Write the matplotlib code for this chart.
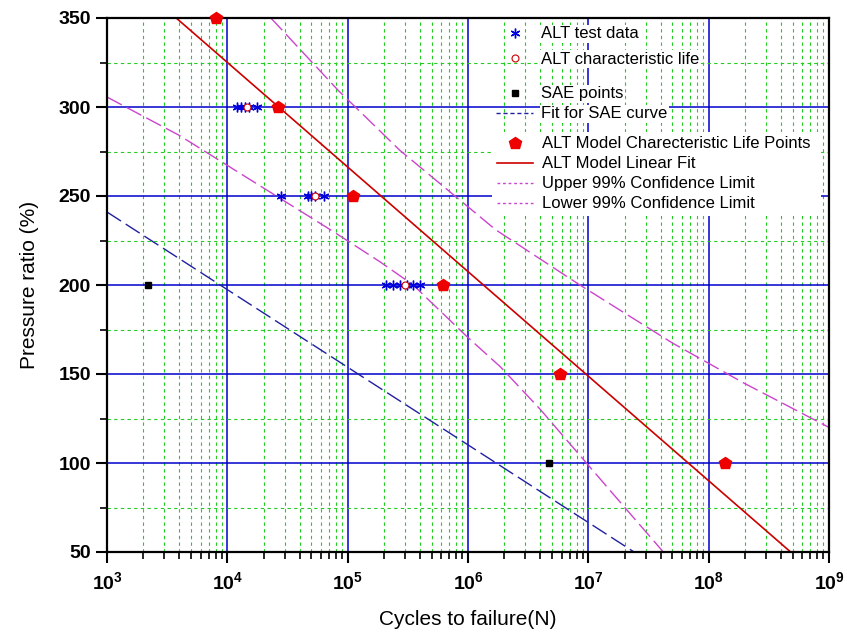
import numpy as np
import matplotlib
matplotlib.use('Agg')
import matplotlib.pyplot as plt
from matplotlib.ticker import FixedLocator, FuncFormatter, NullFormatter
from matplotlib.lines import Line2D

plt.rcParams['font.family'] = ['Liberation Sans', 'DejaVu Sans']
plt.rcParams['mathtext.fontset'] = 'custom'
plt.rcParams['mathtext.rm'] = 'Liberation Sans'
plt.rcParams['mathtext.bf'] = 'Liberation Sans:bold'

# ALT test data (cycles, pressure ratio)
test_300 = [1.2e4, 1.3e4, 1.4e4, 1.5e4, 1.75e4]
test_250 = [2.8e4, 4.7e4, 5.0e4, 5.4e4, 6.4e4]
test_200 = [2.1e5, 2.4e5, 2.7e5, 3.1e5, 3.5e5, 4.0e5]
test_cycles = test_300 + test_250 + test_200
test_pressure = [300] * len(test_300) + [250] * len(test_250) + [200] * len(test_200)

# ALT characteristic life
char_cycles = [1.45e4, 5.4e4, 3.0e5]
char_pressure = [300, 250, 200]

# SAE points and fit
sae_cycles = [2.2e3, 4.7e6]
sae_pressure = [200, 100]
sae_fit_cycles = [1e3, 2.4e7]
sae_fit_pressure = [241, 50]

# ALT model characteristic life points
model_cycles = [8.1e3, 2.65e4, 1.1e5, 6.2e5, 5.8e6, 1.38e8]
model_pressure = [350, 300, 250, 200, 150, 100]

# ALT model linear fit
fit_cycles = [3.76e3, 4.8e8]
fit_pressure = [350, 50]

# 99% confidence limits
upper_cycles = [2.3e4, 8.3e4, 2.7e5, 1.7e6, 8.5e6, 5.0e7, 1.95e8, 1e9]
upper_pressure = [350, 309.5, 275.8, 231, 200, 167.4, 145, 120]
lower_cycles = [1e3, 4.0e3, 7.6e4, 1.86e5, 3.5e5, 9.8e5, 1.86e6, 4.0e6, 1.95e7, 4.2e7]
lower_pressure = [305.6, 284, 230, 213, 200, 171, 154, 130, 76, 50]

fig = plt.figure(figsize=(8.47, 6.42), dpi=100)
ax = fig.add_axes([107 / 847, 1 - 552 / 642, (829 - 107) / 847, (552 - 18) / 642])

ax.set_xscale('log')
ax.set_xlim(1e3, 1e9)
ax.set_ylim(50, 350)

# grid
major_x = [10.0 ** k for k in range(3, 10)]
minor_x = [m * 10.0 ** k for k in range(3, 9) for m in range(2, 10)]
ax.xaxis.set_major_locator(FixedLocator(major_x))
ax.xaxis.set_minor_locator(FixedLocator(minor_x))
ax.yaxis.set_major_locator(FixedLocator(range(50, 351, 50)))
ax.yaxis.set_minor_locator(FixedLocator(range(75, 350, 50)))
ax.xaxis.set_major_formatter(FuncFormatter(lambda v, p: r'$\mathbf{10^{%d}}$' % round(np.log10(v))))
ax.xaxis.set_minor_formatter(NullFormatter())

ax.grid(True, which='minor', color='#22cc22', linestyle=(0, (3, 3)), linewidth=0.8, zorder=0)
ax.grid(True, which='major', color='#0000cc', linestyle='-', linewidth=1.1, zorder=0)
ax.set_axisbelow(True)

dash = (0, (12, 4))
ax.plot(sae_fit_cycles, sae_fit_pressure, color='#2020a0', linestyle=dash, linewidth=1.0)
ax.plot(fit_cycles, fit_pressure, color='#cc0000', linestyle='-', linewidth=1.2)
ax.plot(upper_cycles, upper_pressure, color='#cc44cc', linestyle=dash, linewidth=1.0)
ax.plot(lower_cycles, lower_pressure, color='#cc44cc', linestyle=dash, linewidth=1.0)

ax.plot(test_cycles, test_pressure, linestyle='none', marker=(6, 2, 0), markersize=7,
        color='#0000dd', markeredgewidth=1.0)
ax.plot(char_cycles, char_pressure, linestyle='none', marker='o', markersize=5,
        markerfacecolor='white', markeredgecolor='#cc0000', markeredgewidth=0.8)
ax.plot(sae_cycles, sae_pressure, linestyle='none', marker='s', markersize=5, color='black')
ax.plot(model_cycles, model_pressure, linestyle='none', marker='p', markersize=9,
        color='#ee0000', clip_on=False, zorder=6)

for s in ax.spines.values():
    s.set_linewidth(1.6)
ax.tick_params(which='major', direction='out', length=8, width=1.5, labelsize=14,
               top=False, right=False)
ax.tick_params(which='minor', direction='out', length=5, width=1.2, top=False, right=False)
for lab in ax.get_yticklabels():
    lab.set_fontweight('bold')
ax.tick_params(axis='x', which='major', pad=6)

ax.set_xlabel('Cycles to failure(N)', fontsize=15, labelpad=12)
ax.set_ylabel('Pressure ratio (%)', fontsize=15, labelpad=14)

# legends
fs = 12
h1 = [Line2D([], [], linestyle='none', marker=(6, 2, 0), markersize=7, color='#0000dd'),
      Line2D([], [], linestyle='none', marker='o', markersize=5, markerfacecolor='white',
             markeredgecolor='#cc0000', markeredgewidth=0.8)]
leg1 = fig.legend(h1, ['ALT test data', 'ALT characteristic life'], loc='upper left',
                  bbox_to_anchor=(488 / 847, 1 - 18 / 642), frameon=False, fontsize=fs,
                  borderpad=0, handlelength=2.2, handletextpad=0.5, labelspacing=0.62)
h2 = [Line2D([], [], linestyle='none', marker='s', markersize=5, color='black'),
      Line2D([], [], color='#2020a0', linestyle=(0, (3, 2)), linewidth=1.0)]
leg2 = fig.legend(h2, ['SAE points', 'Fit for SAE curve'], loc='upper left',
                  bbox_to_anchor=(488 / 847, 1 - 78 / 642), frameon=False, fontsize=fs,
                  borderpad=0, handlelength=2.2, handletextpad=0.5, labelspacing=0.3)
for lg in (leg1, leg2):
    for t in lg.get_texts():
        t.set_bbox(dict(facecolor='white', edgecolor='none', pad=1))
h3 = [Line2D([], [], linestyle='none', marker='p', markersize=9, color='#ee0000'),
      Line2D([], [], color='#cc0000', linewidth=1.2),
      Line2D([], [], color='#cc44cc', linestyle=(0, (2, 2)), linewidth=1.0),
      Line2D([], [], color='#cc44cc', linestyle=(0, (2, 2)), linewidth=1.0)]
leg3 = fig.legend(h3, ['ALT Model Charecteristic Life Points', 'ALT Model Linear Fit',
                       'Upper 99% Confidence Limit', 'Lower 99% Confidence Limit'],
                  loc='upper left', bbox_to_anchor=(484 / 847, 1 - 124 / 642, (829 - 484) / 847, 0.0),
                  mode='expand', frameon=True, fancybox=False, facecolor='white',
                  edgecolor='none', framealpha=1, fontsize=fs, borderpad=0.25,
                  handlelength=2.2, handletextpad=0.5, labelspacing=0.3)

fig.savefig('out.png', dpi=100)
